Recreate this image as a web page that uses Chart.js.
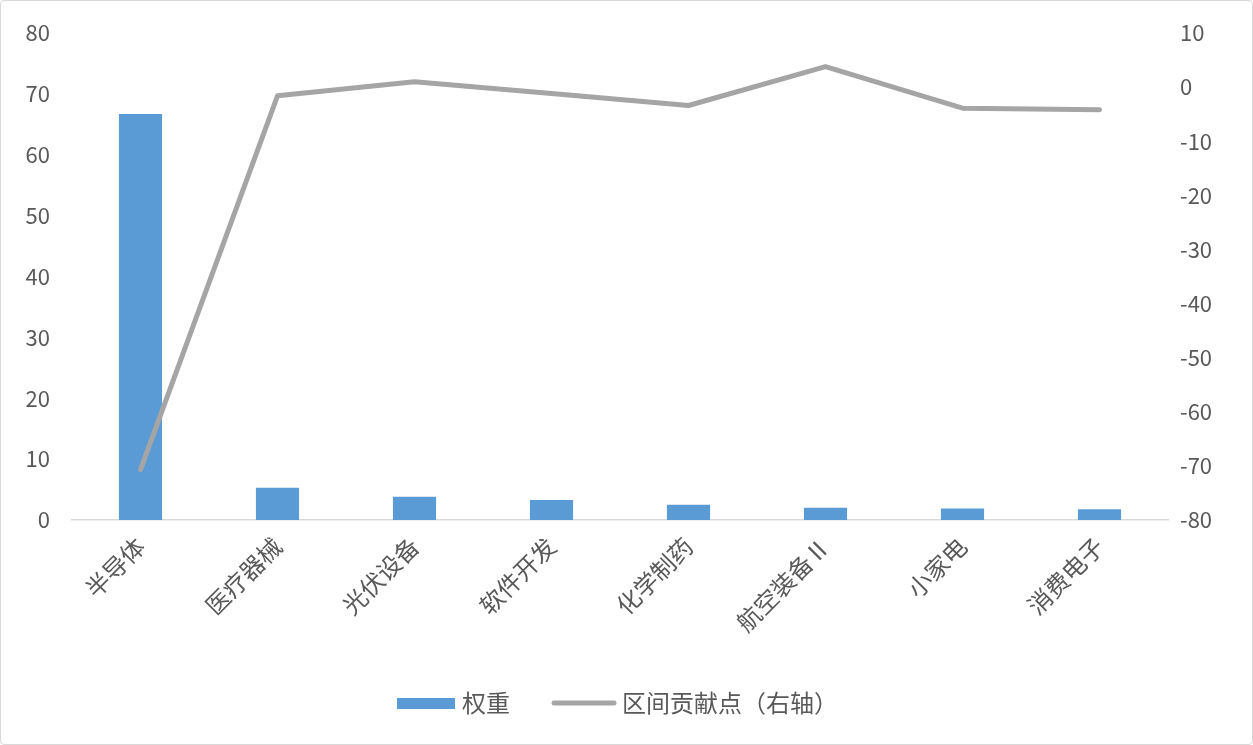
<!DOCTYPE html>
<html>
<head>
<meta charset="utf-8">
<script src="https://cdn.jsdelivr.net/npm/chart.js@4"></script>
<style>
    html, body { margin: 0; padding: 0; background: #fff; }
    #wrap { position: relative; width: 1253px; height: 745px; box-sizing: border-box; border: 1px solid #D9D9D9; border-radius: 4px; }
</style>
</head>
<body>
<div id="wrap"><canvas id="myChart" width="1251" height="743"></canvas></div>
<script>
var categories = ['半导体', '医疗器械', '光伏设备', '软件开发', '化学制药', '航空装备Ⅱ', '小家电', '消费电子'];
var weights = [66.7, 5.3, 3.8, 3.3, 2.5, 2.0, 1.9, 1.75];
var contribution = [-70.7, -1.6, 1.0, -1.2, -3.4, 3.8, -3.9, -4.2];
var leftTicks = [0, 80, 10];
var rightTicks = [-80, 10, 10];

var fontFamily = '"Noto Sans CJK SC", "Noto Sans", sans-serif';
var textColor = '#595959';

// legend drawn by hand: box for bars, thick line for the line series
var legendPlugin = {
    id: 'excelLegend',
    afterDraw: function (chart) {
        var ctx = chart.ctx;
        var barSet = chart.data.datasets[1];
        var lineSet = chart.data.datasets[0];
        var y = 702;
        ctx.save();
        ctx.font = '24px ' + fontFamily;
        ctx.fillStyle = barSet.backgroundColor;
        ctx.fillRect(396, y - 5, 58, 11);
        ctx.fillStyle = textColor;
        ctx.textBaseline = 'middle';
        ctx.fillText(barSet.label, 461, y);
        ctx.strokeStyle = lineSet.borderColor;
        ctx.lineWidth = 5;
        ctx.lineCap = 'round';
        ctx.beginPath();
        ctx.moveTo(553, y);
        ctx.lineTo(613, y);
        ctx.stroke();
        ctx.fillText(lineSet.label, 621, y);
        ctx.restore();
    }
};

// fixed axis width, and no extra top/bottom padding from the tick labels
function fixY(width) {
    return function (scale) {
        scale.width = width;
        scale.paddingTop = 0;
        scale.paddingBottom = 0;
    };
}

var ctx = document.getElementById('myChart').getContext('2d');
var chart = new Chart(ctx, {
    type: 'bar',
    data: {
        labels: categories,
        datasets: [{
            type: 'line',
            label: '区间贡献点（右轴）',
            data: contribution,
            yAxisID: 'y1',
            borderColor: '#A5A5A5',
            backgroundColor: '#A5A5A5',
            borderWidth: 5,
            borderCapStyle: 'round',
            borderJoinStyle: 'round',
            pointRadius: 0,
            tension: 0,
            order: 1
        }, {
            label: '权重',
            data: weights,
            yAxisID: 'y',
            backgroundColor: '#5B9BD5',
            barPercentage: 0.315,
            categoryPercentage: 1,
            order: 2
        }]
    },
    options: {
        responsive: false,
        animation: false,
        layout: { autoPadding: false, padding: { top: 32, bottom: 94, left: 0, right: 0 } },
        plugins: {
            legend: { display: false },
            tooltip: { enabled: false }
        },
        scales: {
            x: {
                grid: { display: false },
                border: { display: true, color: '#D9D9D9', width: 1.5 },
                ticks: {
                    color: textColor,
                    font: { family: fontFamily, size: 24 },
                    minRotation: 45,
                    maxRotation: 45,
                    padding: 4
                },
                afterFit: function (scale) { scale.height = 130; }
            },
            y: {
                position: 'left',
                min: leftTicks[0],
                max: leftTicks[1],
                grid: { display: false, drawTicks: false },
                border: { display: false },
                ticks: {
                    stepSize: leftTicks[2],
                    color: textColor,
                    font: { family: fontFamily, size: 22 },
                    padding: 22
                },
                afterFit: fixY(71)
            },
            y1: {
                position: 'right',
                min: rightTicks[0],
                max: rightTicks[1],
                grid: { display: false, drawTicks: false },
                border: { display: false },
                ticks: {
                    stepSize: rightTicks[2],
                    color: textColor,
                    font: { family: fontFamily, size: 22 },
                    padding: 12
                },
                afterFit: fixY(84)
            }
        }
    },
    plugins: [legendPlugin]
});
</script>
</body>
</html>
